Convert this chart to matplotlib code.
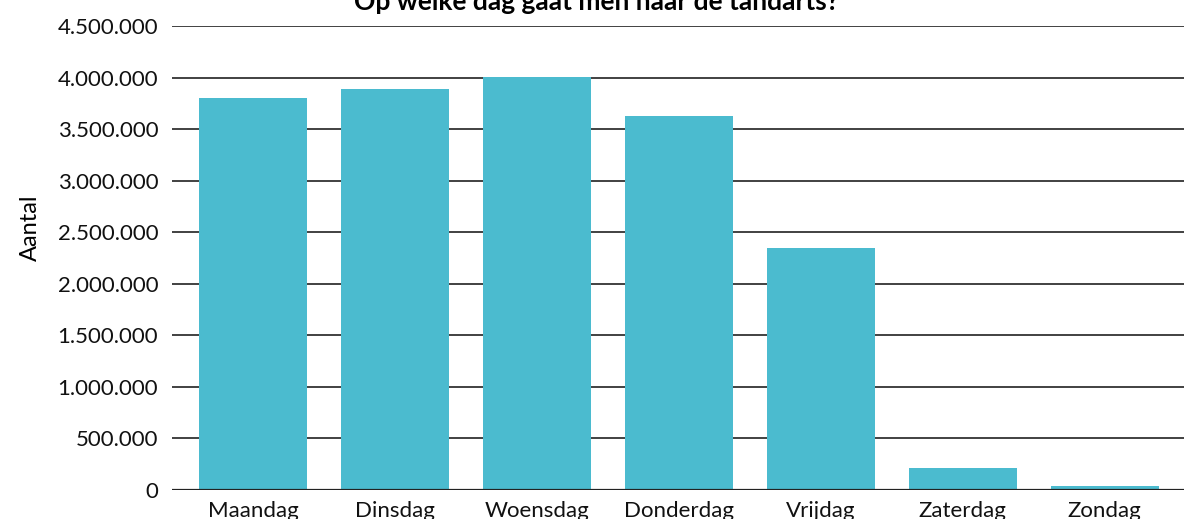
import matplotlib.pyplot as plt
from matplotlib.ticker import FuncFormatter

dagen = ['Maandag', 'Dinsdag', 'Woensdag', 'Donderdag', 'Vrijdag', 'Zaterdag', 'Zondag']
aantal = [3802000, 3889000, 4005000, 3627000, 2347000, 213000, 39000]
yticks = [0, 500000, 1000000, 1500000, 2000000, 2500000, 3000000, 3500000, 4000000, 4500000]

plt.rcParams['font.family'] = ['Lato', 'DejaVu Sans']

fig = plt.figure(figsize=(11.93, 5.19), dpi=100)
ax = fig.add_axes([0.1442, 0.0559, 0.8483, 0.894])

ax.bar(range(len(dagen)), aantal, width=0.76, color='#4bbbcf', zorder=3)

ax.set_ylim(0, 4500000)
ax.set_xlim(-0.57, 6.56)
ax.set_yticks(yticks)
ax.yaxis.set_major_formatter(FuncFormatter(lambda v, p: f'{int(v):,}'.replace(',', '.')))
ax.set_xticks(range(len(dagen)))
ax.set_xticklabels(dagen)

ax.grid(axis='y', color='#333333', linewidth=1.3, zorder=0)
ax.axhline(0, color='#222222', linewidth=1.6, zorder=4)
for s in ax.spines.values():
    s.set_visible(False)
ax.tick_params(axis='both', length=0, labelsize=16, colors='#111111')
ax.tick_params(axis='y', pad=10)
ax.tick_params(axis='x', pad=8)

ax.set_ylabel('Aantal', fontsize=17)
ax.yaxis.set_label_coords(-0.130, 0.565)

# titel staat deels buiten beeld, net als in het origineel
fig.text(0.5, 1 - 10 / 519, 'Op welke dag gaat men naar de tandarts?',
         ha='center', va='baseline', fontsize=19, fontweight='bold')

fig.savefig('out.png', dpi=100)
